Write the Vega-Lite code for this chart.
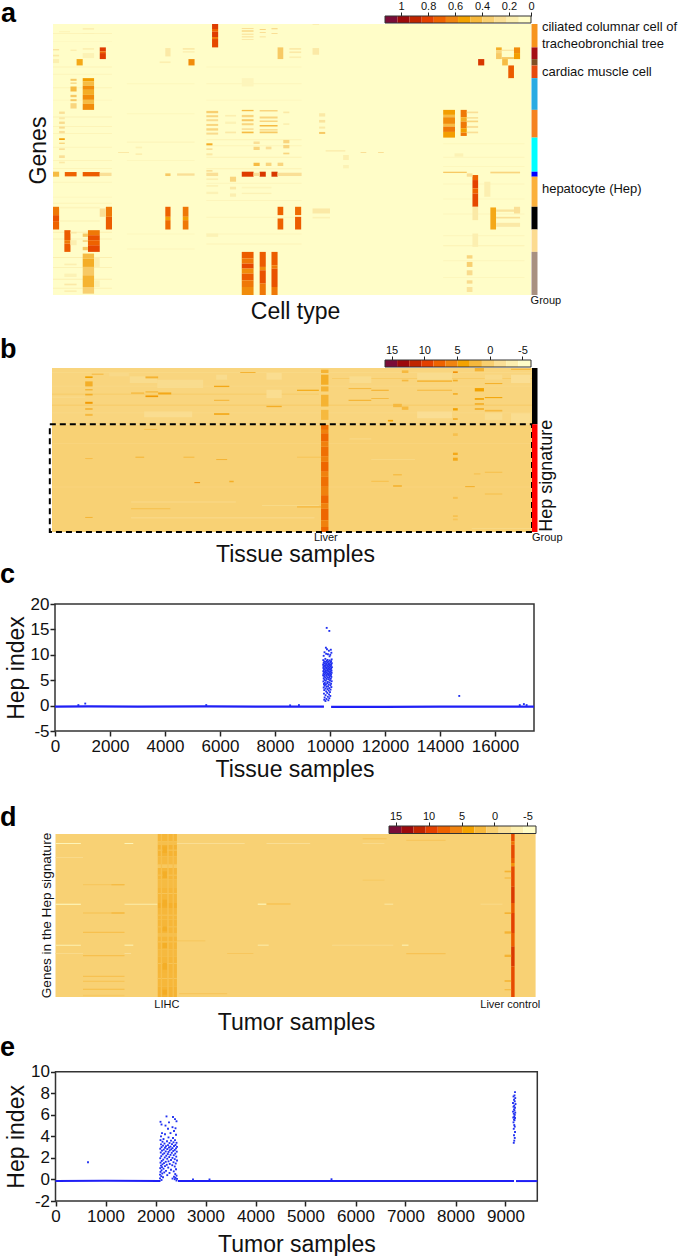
{"$schema":"https://vega.github.io/schema/vega-lite/v6.json","width":685,"height":1256,"padding":0,"autosize":{"type":"none"},"background":"white","config":{"font":"Liberation Sans","view":{"stroke":null},"axis":{"grid":false,"titleFontWeight":"normal","labelColor":"#111","titleColor":"#111","tickColor":"#222"}},
"datasets":{
"heatA":[{"a":121,"b":1215,"c":73,"d":884,"v":0.03},
{"a":121,"b":256,"c":100,"d":103,"v":0.09},{"a":121,"b":256,"c":125,"d":127,"v":0.08},{"a":121,"b":256,"c":200,"d":203,"v":0.09},{"a":121,"b":256,"c":222,"d":225,"v":0.08},{"a":121,"b":256,"c":262,"d":265,"v":0.09},{"a":121,"b":256,"c":300,"d":302,"v":0.08},{"a":121,"b":256,"c":350,"d":353,"v":0.1},{"a":121,"b":256,"c":378,"d":381,"v":0.09},{"a":121,"b":256,"c":400,"d":402,"v":0.1},{"a":121,"b":256,"c":440,"d":443,"v":0.08},{"a":121,"b":256,"c":480,"d":483,"v":0.09},{"a":121,"b":256,"c":505,"d":507,"v":0.1},{"a":121,"b":256,"c":545,"d":548,"v":0.08},{"a":121,"b":256,"c":590,"d":592,"v":0.08},{"a":121,"b":256,"c":608,"d":611,"v":0.09},{"a":121,"b":256,"c":695,"d":698,"v":0.12},{"a":121,"b":256,"c":715,"d":718,"v":0.1},{"a":121,"b":256,"c":770,"d":773,"v":0.12},{"a":121,"b":256,"c":800,"d":803,"v":0.1},{"a":121,"b":256,"c":835,"d":838,"v":0.12},{"a":121,"b":256,"c":862,"d":865,"v":0.1},
{"a":472,"b":690,"c":200,"d":203,"v":0.07},{"a":472,"b":690,"c":250,"d":253,"v":0.08},{"a":472,"b":690,"c":300,"d":302,"v":0.08},{"a":472,"b":690,"c":418,"d":421,"v":0.1},{"a":472,"b":690,"c":436,"d":439,"v":0.09},{"a":472,"b":690,"c":470,"d":473,"v":0.1},{"a":472,"b":690,"c":505,"d":508,"v":0.1},{"a":472,"b":690,"c":548,"d":551,"v":0.08},{"a":472,"b":690,"c":600,"d":603,"v":0.08},{"a":472,"b":690,"c":650,"d":653,"v":0.08},{"a":472,"b":690,"c":700,"d":703,"v":0.08},{"a":472,"b":690,"c":730,"d":733,"v":0.09},
{"a":1014,"b":1200,"c":430,"d":433,"v":0.07},{"a":1014,"b":1200,"c":470,"d":473,"v":0.08},{"a":1014,"b":1200,"c":498,"d":501,"v":0.07},{"a":1014,"b":1200,"c":550,"d":553,"v":0.08},{"a":1014,"b":1200,"c":595,"d":598,"v":0.07},{"a":1014,"b":1200,"c":640,"d":643,"v":0.08},{"a":1014,"b":1200,"c":705,"d":708,"v":0.08},{"a":1014,"b":1200,"c":735,"d":738,"v":0.1},{"a":1014,"b":1200,"c":780,"d":783,"v":0.08},{"a":1014,"b":1200,"c":830,"d":833,"v":0.07},
{"a":290,"b":445,"c":250,"d":253,"v":0.07},{"a":290,"b":445,"c":340,"d":343,"v":0.07},{"a":290,"b":445,"c":425,"d":428,"v":0.08},{"a":290,"b":445,"c":480,"d":483,"v":0.07},{"a":290,"b":445,"c":700,"d":703,"v":0.07},{"a":290,"b":445,"c":745,"d":748,"v":0.08},
{"a":485,"b":499,"c":73,"d":88,"v":0.72},{"a":485,"b":499,"c":88,"d":96,"v":0.6},{"a":485,"b":499,"c":96,"d":112,"v":0.72},{"a":485,"b":499,"c":112,"d":118,"v":0.55},{"a":485,"b":499,"c":118,"d":143,"v":0.68},
{"a":553,"b":580,"c":85,"d":88,"v":0.2},{"a":553,"b":580,"c":92,"d":96,"v":0.25},{"a":553,"b":580,"c":102,"d":105,"v":0.2},{"a":553,"b":580,"c":110,"d":113,"v":0.2},{"a":553,"b":580,"c":118,"d":121,"v":0.15},{"a":594,"b":608,"c":88,"d":91,"v":0.25},{"a":594,"b":608,"c":97,"d":100,"v":0.2},{"a":594,"b":608,"c":110,"d":113,"v":0.18},{"a":621,"b":635,"c":85,"d":89,"v":0.22},{"a":621,"b":635,"c":100,"d":103,"v":0.2},{"a":135,"b":160,"c":95,"d":98,"v":0.1},{"a":189,"b":215,"c":85,"d":90,"v":0.12},{"a":189,"b":215,"c":100,"d":103,"v":0.1},{"a":715,"b":730,"c":73,"d":76,"v":0.12},
{"a":228,"b":242,"c":143,"d":155,"v":0.72},{"a":228,"b":242,"c":155,"d":160,"v":0.6},{"a":228,"b":242,"c":160,"d":178,"v":0.72},{"a":1135,"b":1148,"c":143,"d":152,"v":0.4},{"a":1135,"b":1148,"c":152,"d":160,"v":0.25},{"a":1135,"b":1148,"c":160,"d":178,"v":0.3},{"a":1176,"b":1190,"c":143,"d":160,"v":0.5},{"a":1176,"b":1190,"c":160,"d":178,"v":0.45},{"a":1148,"b":1176,"c":150,"d":153,"v":0.2},{"a":1148,"b":1176,"c":172,"d":178,"v":0.3},{"a":635,"b":648,"c":143,"d":178,"v":0.3},{"a":662,"b":689,"c":145,"d":150,"v":0.15},{"a":662,"b":689,"c":155,"d":160,"v":0.15},{"a":662,"b":689,"c":170,"d":175,"v":0.12},{"a":715,"b":730,"c":145,"d":165,"v":0.15},{"a":378,"b":390,"c":145,"d":170,"v":0.15},{"a":418,"b":445,"c":145,"d":150,"v":0.15},{"a":418,"b":445,"c":155,"d":158,"v":0.15},{"a":121,"b":135,"c":148,"d":152,"v":0.18},{"a":121,"b":135,"c":165,"d":170,"v":0.15},{"a":121,"b":135,"c":178,"d":190,"v":0.12},{"a":161,"b":175,"c":150,"d":153,"v":0.15},{"a":189,"b":215,"c":145,"d":150,"v":0.12},{"a":189,"b":215,"c":160,"d":175,"v":0.1},
{"a":175,"b":189,"c":178,"d":197,"v":0.42},{"a":431,"b":445,"c":178,"d":197,"v":0.5},{"a":1094,"b":1108,"c":178,"d":197,"v":0.75},{"a":1149,"b":1162,"c":178,"d":197,"v":0.35},{"a":365,"b":390,"c":185,"d":190,"v":0.12},{"a":1163,"b":1176,"c":197,"d":235,"v":0.62},
{"a":161,"b":175,"c":237,"d":243,"v":0.3},{"a":161,"b":175,"c":248,"d":252,"v":0.25},{"a":161,"b":175,"c":260,"d":275,"v":0.35},{"a":161,"b":175,"c":285,"d":292,"v":0.3},{"a":161,"b":175,"c":298,"d":304,"v":0.3},{"a":161,"b":175,"c":310,"d":326,"v":0.25},
{"a":189,"b":215,"c":235,"d":245,"v":0.45},{"a":189,"b":215,"c":245,"d":258,"v":0.35},{"a":189,"b":215,"c":258,"d":270,"v":0.5},{"a":189,"b":215,"c":270,"d":285,"v":0.4},{"a":189,"b":215,"c":285,"d":300,"v":0.5},{"a":189,"b":215,"c":300,"d":312,"v":0.35},{"a":189,"b":215,"c":312,"d":330,"v":0.5},{"a":553,"b":580,"c":235,"d":260,"v":0.08},
{"a":1014,"b":1041,"c":330,"d":345,"v":0.45},{"a":1014,"b":1041,"c":345,"d":352,"v":0.35},{"a":1014,"b":1041,"c":352,"d":372,"v":0.5},{"a":1014,"b":1041,"c":372,"d":380,"v":0.35},{"a":1014,"b":1041,"c":380,"d":396,"v":0.55},{"a":1014,"b":1041,"c":396,"d":413,"v":0.45},
{"a":1054,"b":1068,"c":330,"d":352,"v":0.55},{"a":1054,"b":1068,"c":352,"d":365,"v":0.4},{"a":1054,"b":1068,"c":365,"d":385,"v":0.55},{"a":1054,"b":1068,"c":385,"d":398,"v":0.45},{"a":1054,"b":1068,"c":398,"d":408,"v":0.55},
{"a":1068,"b":1094,"c":335,"d":340,"v":0.2},{"a":1068,"b":1094,"c":352,"d":356,"v":0.22},{"a":1068,"b":1094,"c":362,"d":367,"v":0.25},{"a":1068,"b":1094,"c":378,"d":384,"v":0.2},{"a":1068,"b":1094,"c":395,"d":400,"v":0.2},
{"a":472,"b":499,"c":333,"d":340,"v":0.28},{"a":472,"b":499,"c":346,"d":352,"v":0.25},{"a":472,"b":499,"c":358,"d":364,"v":0.22},{"a":472,"b":499,"c":372,"d":378,"v":0.25},{"a":472,"b":499,"c":385,"d":392,"v":0.25},{"a":472,"b":499,"c":398,"d":404,"v":0.22},
{"a":553,"b":580,"c":330,"d":334,"v":0.35},{"a":553,"b":580,"c":345,"d":352,"v":0.25},{"a":553,"b":580,"c":358,"d":364,"v":0.3},{"a":553,"b":580,"c":370,"d":376,"v":0.25},{"a":553,"b":580,"c":385,"d":390,"v":0.2},{"a":553,"b":580,"c":395,"d":400,"v":0.35},
{"a":594,"b":635,"c":330,"d":335,"v":0.25},{"a":594,"b":635,"c":350,"d":356,"v":0.25},{"a":594,"b":635,"c":362,"d":366,"v":0.25},{"a":594,"b":635,"c":375,"d":380,"v":0.35},{"a":594,"b":635,"c":388,"d":392,"v":0.25},{"a":594,"b":635,"c":395,"d":400,"v":0.3},
{"a":135,"b":148,"c":335,"d":342,"v":0.2},{"a":135,"b":148,"c":352,"d":358,"v":0.15},{"a":135,"b":148,"c":365,"d":372,"v":0.22},{"a":135,"b":148,"c":380,"d":386,"v":0.22},{"a":135,"b":148,"c":393,"d":400,"v":0.2},
{"a":730,"b":744,"c":340,"d":350,"v":0.15},{"a":730,"b":744,"c":360,"d":368,"v":0.18},{"a":730,"b":744,"c":380,"d":386,"v":0.15},{"a":730,"b":744,"c":396,"d":402,"v":0.3},{"a":648,"b":662,"c":335,"d":340,"v":0.15},{"a":648,"b":662,"c":370,"d":375,"v":0.12},{"a":515,"b":540,"c":345,"d":350,"v":0.12},{"a":515,"b":540,"c":365,"d":372,"v":0.1},{"a":515,"b":540,"c":395,"d":400,"v":0.15},
{"a":135,"b":148,"c":415,"d":420,"v":0.45},{"a":135,"b":148,"c":428,"d":432,"v":0.25},{"a":135,"b":148,"c":445,"d":450,"v":0.2},{"a":135,"b":148,"c":466,"d":474,"v":0.2},{"a":135,"b":148,"c":485,"d":490,"v":0.15},{"a":472,"b":486,"c":430,"d":436,"v":0.4},{"a":472,"b":486,"c":445,"d":450,"v":0.2},{"a":472,"b":486,"c":460,"d":466,"v":0.15},{"a":472,"b":486,"c":510,"d":515,"v":0.2},{"a":580,"b":594,"c":425,"d":432,"v":0.2},{"a":580,"b":594,"c":440,"d":450,"v":0.25},{"a":580,"b":594,"c":488,"d":498,"v":0.35},{"a":608,"b":621,"c":440,"d":448,"v":0.2},{"a":608,"b":621,"c":488,"d":498,"v":0.25},{"a":635,"b":648,"c":488,"d":498,"v":0.25},{"a":648,"b":662,"c":420,"d":430,"v":0.25},{"a":648,"b":662,"c":435,"d":445,"v":0.25},{"a":648,"b":662,"c":458,"d":463,"v":0.25},{"a":270,"b":295,"c":456,"d":459,"v":0.15},{"a":310,"b":325,"c":460,"d":465,"v":0.12},{"a":310,"b":325,"c":440,"d":445,"v":0.1},{"a":825,"b":838,"c":456,"d":459,"v":0.2},{"a":865,"b":878,"c":456,"d":459,"v":0.2},{"a":745,"b":790,"c":450,"d":455,"v":0.12},{"a":785,"b":798,"c":465,"d":480,"v":0.12},{"a":785,"b":798,"c":495,"d":505,"v":0.1},{"a":1040,"b":1060,"c":460,"d":470,"v":0.1},
{"a":121,"b":135,"c":515,"d":530,"v":0.35},{"a":148,"b":175,"c":516,"d":529,"v":0.6},{"a":189,"b":228,"c":516,"d":529,"v":0.62},{"a":228,"b":255,"c":518,"d":528,"v":0.2},{"a":553,"b":580,"c":515,"d":530,"v":0.72},{"a":594,"b":608,"c":515,"d":530,"v":0.75},{"a":621,"b":635,"c":515,"d":530,"v":0.75},{"a":580,"b":594,"c":518,"d":528,"v":0.2},{"a":635,"b":690,"c":518,"d":528,"v":0.2},{"a":378,"b":390,"c":520,"d":528,"v":0.3},{"a":405,"b":445,"c":520,"d":527,"v":0.2},{"a":1014,"b":1068,"c":515,"d":519,"v":0.3},{"a":1122,"b":1190,"c":515,"d":520,"v":0.25},{"a":472,"b":499,"c":518,"d":528,"v":0.2},
{"a":1081,"b":1094,"c":525,"d":540,"v":0.6},{"a":1081,"b":1094,"c":540,"d":565,"v":0.7},{"a":1081,"b":1094,"c":565,"d":580,"v":0.6},{"a":1081,"b":1094,"c":580,"d":620,"v":0.68},{"a":526,"b":540,"c":530,"d":545,"v":0.25},{"a":526,"b":540,"c":560,"d":568,"v":0.15},{"a":526,"b":540,"c":580,"d":590,"v":0.12},{"a":1108,"b":1122,"c":545,"d":590,"v":0.12},{"a":472,"b":499,"c":535,"d":540,"v":0.12},{"a":472,"b":499,"c":555,"d":560,"v":0.1},{"a":472,"b":499,"c":575,"d":582,"v":0.1},{"a":1068,"b":1081,"c":520,"d":530,"v":0.2},{"a":553,"b":621,"c":560,"d":565,"v":0.08},{"a":553,"b":621,"c":578,"d":582,"v":0.1},
{"a":121,"b":135,"c":620,"d":645,"v":0.55},{"a":121,"b":135,"c":645,"d":665,"v":0.65},{"a":121,"b":135,"c":665,"d":688,"v":0.6},{"a":242,"b":256,"c":620,"d":650,"v":0.55},{"a":242,"b":256,"c":650,"d":688,"v":0.62},{"a":378,"b":390,"c":620,"d":650,"v":0.6},{"a":378,"b":390,"c":650,"d":660,"v":0.45},{"a":378,"b":390,"c":660,"d":688,"v":0.58},{"a":418,"b":431,"c":620,"d":650,"v":0.55},{"a":418,"b":431,"c":650,"d":660,"v":0.45},{"a":418,"b":431,"c":660,"d":688,"v":0.55},{"a":635,"b":648,"c":620,"d":645,"v":0.6},{"a":635,"b":648,"c":655,"d":688,"v":0.6},{"a":675,"b":689,"c":620,"d":645,"v":0.58},{"a":675,"b":689,"c":650,"d":688,"v":0.62},{"a":1122,"b":1135,"c":622,"d":688,"v":0.42},{"a":1135,"b":1190,"c":628,"d":635,"v":0.18},{"a":1135,"b":1190,"c":650,"d":655,"v":0.2},{"a":1135,"b":1190,"c":668,"d":680,"v":0.15},{"a":1176,"b":1190,"c":620,"d":640,"v":0.2},{"a":715,"b":755,"c":625,"d":640,"v":0.15},{"a":715,"b":755,"c":650,"d":655,"v":0.1},{"a":228,"b":242,"c":625,"d":650,"v":0.2},{"a":135,"b":228,"c":620,"d":625,"v":0.08},{"a":135,"b":228,"c":660,"d":665,"v":0.08},{"a":1081,"b":1094,"c":620,"d":660,"v":0.15},
{"a":147,"b":161,"c":690,"d":720,"v":0.62},{"a":147,"b":161,"c":720,"d":730,"v":0.55},{"a":147,"b":161,"c":730,"d":755,"v":0.62},{"a":201,"b":228,"c":690,"d":705,"v":0.55},{"a":201,"b":228,"c":705,"d":720,"v":0.65},{"a":201,"b":228,"c":720,"d":735,"v":0.6},{"a":201,"b":228,"c":735,"d":755,"v":0.68},{"a":161,"b":175,"c":695,"d":700,"v":0.15},{"a":161,"b":175,"c":720,"d":735,"v":0.12},{"a":189,"b":201,"c":700,"d":710,"v":0.3},{"a":189,"b":201,"c":720,"d":725,"v":0.25},{"a":189,"b":201,"c":740,"d":750,"v":0.3},{"a":1081,"b":1094,"c":700,"d":740,"v":0.12},{"a":472,"b":499,"c":700,"d":710,"v":0.1},
{"a":553,"b":580,"c":755,"d":775,"v":0.62},{"a":553,"b":580,"c":775,"d":790,"v":0.55},{"a":553,"b":580,"c":790,"d":805,"v":0.68},{"a":553,"b":580,"c":805,"d":820,"v":0.5},{"a":553,"b":580,"c":820,"d":840,"v":0.62},{"a":553,"b":580,"c":840,"d":860,"v":0.55},{"a":553,"b":580,"c":860,"d":884,"v":0.5},{"a":594,"b":608,"c":755,"d":800,"v":0.62},{"a":594,"b":608,"c":800,"d":810,"v":0.5},{"a":594,"b":608,"c":810,"d":850,"v":0.65},{"a":594,"b":608,"c":850,"d":884,"v":0.55},{"a":621,"b":635,"c":755,"d":795,"v":0.62},{"a":621,"b":635,"c":795,"d":805,"v":0.55},{"a":621,"b":635,"c":805,"d":860,"v":0.65},{"a":621,"b":635,"c":860,"d":884,"v":0.55},{"a":189,"b":215,"c":760,"d":775,"v":0.35},{"a":189,"b":215,"c":775,"d":800,"v":0.4},{"a":189,"b":215,"c":800,"d":825,"v":0.3},{"a":189,"b":215,"c":825,"d":860,"v":0.38},{"a":189,"b":215,"c":860,"d":880,"v":0.28},{"a":1068,"b":1081,"c":765,"d":775,"v":0.25},{"a":1068,"b":1081,"c":785,"d":800,"v":0.28},{"a":1068,"b":1081,"c":810,"d":825,"v":0.22},{"a":1068,"b":1081,"c":840,"d":850,"v":0.22},{"a":1068,"b":1081,"c":860,"d":875,"v":0.18},{"a":147,"b":175,"c":790,"d":795,"v":0.12},{"a":147,"b":175,"c":820,"d":830,"v":0.1},{"a":147,"b":175,"c":850,"d":855,"v":0.15},{"a":147,"b":175,"c":870,"d":875,"v":0.12},{"a":215,"b":228,"c":770,"d":800,"v":0.12},{"a":215,"b":228,"c":840,"d":860,"v":0.1}],
"heatB":[{"a":119,"b":1218,"c":115,"d":283,"v":-0.4},{"a":119,"b":1218,"c":283,"d":605,"v":0.1},
{"a":119,"b":1218,"c":128,"d":130,"v":-1},{"a":119,"b":1218,"c":168,"d":170,"v":-0.9},{"a":119,"b":1218,"c":225,"d":227,"v":0.9},{"a":119,"b":1218,"c":248,"d":250,"v":-0.9},{"a":119,"b":1218,"c":272,"d":274,"v":-0.8},{"a":119,"b":730,"c":192,"d":194,"v":0.8},{"a":760,"b":1218,"c":145,"d":147,"v":0.8},{"a":119,"b":1218,"c":340,"d":341,"v":-0.7},{"a":119,"b":1218,"c":470,"d":471,"v":-0.7},
{"a":297,"b":360,"c":140,"d":160,"v":-1.2},{"a":360,"b":465,"c":150,"d":175,"v":-1.2},{"a":495,"b":520,"c":135,"d":150,"v":-1.2},{"a":610,"b":645,"c":130,"d":150,"v":-1.3},{"a":610,"b":645,"c":180,"d":205,"v":-1.3},{"a":800,"b":850,"c":140,"d":160,"v":-1.2},{"a":955,"b":1035,"c":130,"d":150,"v":-1.2},{"a":955,"b":1035,"c":245,"d":265,"v":-1.5},{"a":1170,"b":1215,"c":135,"d":160,"v":-1.5},{"a":1170,"b":1215,"c":250,"d":280,"v":-1.3},{"a":330,"b":440,"c":245,"d":262,"v":-1.3},{"a":120,"b":195,"c":200,"d":205,"v":-0.9},{"a":1110,"b":1150,"c":135,"d":150,"v":-1},{"a":1110,"b":1150,"c":250,"d":270,"v":-1.2},{"a":250,"b":295,"c":130,"d":140,"v":-0.9},
{"a":195,"b":212,"c":140,"d":145,"v":4},{"a":195,"b":212,"c":155,"d":170,"v":3},{"a":195,"b":212,"c":178,"d":182,"v":2.5},{"a":195,"b":212,"c":192,"d":197,"v":3},{"a":195,"b":212,"c":216,"d":222,"v":4.5},{"a":195,"b":212,"c":235,"d":240,"v":2.5},{"a":195,"b":212,"c":252,"d":258,"v":2},
{"a":735,"b":752,"c":120,"d":130,"v":2.5},{"a":735,"b":752,"c":135,"d":165,"v":3},{"a":735,"b":752,"c":170,"d":185,"v":2.5},{"a":735,"b":752,"c":195,"d":230,"v":2.5},{"a":735,"b":752,"c":240,"d":270,"v":2},
{"a":1037,"b":1048,"c":125,"d":130,"v":5},{"a":1037,"b":1048,"c":150,"d":155,"v":3},{"a":1037,"b":1048,"c":190,"d":195,"v":3},{"a":1037,"b":1048,"c":235,"d":242,"v":4},{"a":1037,"b":1048,"c":265,"d":270,"v":3},
{"a":1087,"b":1108,"c":115,"d":125,"v":2.5},{"a":1087,"b":1108,"c":175,"d":185,"v":4},{"a":1087,"b":1108,"c":205,"d":210,"v":4},{"a":1087,"b":1108,"c":220,"d":225,"v":3},{"a":1087,"b":1108,"c":235,"d":240,"v":3},{"a":1110,"b":1150,"c":160,"d":163,"v":3},{"a":1110,"b":1150,"c":202,"d":205,"v":4},{"a":1110,"b":1150,"c":240,"d":245,"v":2},{"a":955,"b":1035,"c":152,"d":156,"v":3},{"a":955,"b":1035,"c":180,"d":183,"v":2},{"a":798,"b":850,"c":210,"d":213,"v":3},{"a":798,"b":850,"c":175,"d":178,"v":2},{"a":850,"b":890,"c":180,"d":183,"v":3},{"a":850,"b":890,"c":205,"d":207,"v":3},{"a":333,"b":362,"c":140,"d":146,"v":2.5},{"a":333,"b":362,"c":185,"d":188,"v":3},{"a":333,"b":362,"c":197,"d":202,"v":4.5},{"a":300,"b":330,"c":188,"d":192,"v":2},{"a":362,"b":392,"c":188,"d":194,"v":3.5},{"a":490,"b":525,"c":168,"d":172,"v":3.5},{"a":490,"b":525,"c":250,"d":255,"v":3.5},{"a":490,"b":525,"c":210,"d":213,"v":2.5},{"a":680,"b":730,"c":180,"d":183,"v":4},{"a":610,"b":645,"c":228,"d":232,"v":3},{"a":550,"b":585,"c":127,"d":130,"v":2.5},{"a":210,"b":237,"c":132,"d":135,"v":2},{"a":888,"b":900,"c":270,"d":275,"v":4},{"a":900,"b":920,"c":222,"d":232,"v":2},{"a":920,"b":935,"c":122,"d":130,"v":2},{"a":920,"b":935,"c":150,"d":155,"v":2},{"a":920,"b":935,"c":230,"d":240,"v":2},{"a":1170,"b":1215,"c":117,"d":120,"v":2.5},
{"a":735,"b":752,"c":285,"d":300,"v":7},{"a":735,"b":752,"c":300,"d":310,"v":6},{"a":735,"b":752,"c":310,"d":335,"v":7.5},{"a":735,"b":752,"c":335,"d":350,"v":6},{"a":735,"b":752,"c":350,"d":380,"v":7},{"a":735,"b":752,"c":380,"d":395,"v":6},{"a":735,"b":752,"c":395,"d":425,"v":7.5},{"a":735,"b":752,"c":425,"d":440,"v":6},{"a":735,"b":752,"c":440,"d":470,"v":7},{"a":735,"b":752,"c":470,"d":495,"v":6},{"a":735,"b":752,"c":495,"d":520,"v":7.5},{"a":735,"b":752,"c":520,"d":535,"v":6},{"a":735,"b":752,"c":535,"d":570,"v":7.5},{"a":735,"b":752,"c":570,"d":590,"v":6},{"a":735,"b":752,"c":590,"d":605,"v":7.5},
{"a":1037,"b":1048,"c":310,"d":318,"v":1.5},{"a":1037,"b":1048,"c":368,"d":375,"v":3.5},{"a":1037,"b":1048,"c":383,"d":392,"v":3.5},{"a":1037,"b":1048,"c":500,"d":506,"v":1.5},{"a":1037,"b":1048,"c":555,"d":560,"v":1.5},{"a":1037,"b":1048,"c":565,"d":570,"v":1.2},{"a":195,"b":212,"c":385,"d":387,"v":2.5},{"a":195,"b":212,"c":560,"d":563,"v":2.5},{"a":310,"b":330,"c":380,"d":383,"v":2.5},{"a":420,"b":445,"c":380,"d":383,"v":2},{"a":495,"b":520,"c":387,"d":390,"v":2.5},{"a":445,"b":458,"c":456,"d":459,"v":5},{"a":525,"b":535,"c":452,"d":456,"v":3},{"a":680,"b":735,"c":380,"d":383,"v":1.2},{"a":680,"b":735,"c":528,"d":532,"v":2},{"a":300,"b":390,"c":534,"d":537,"v":1.6},{"a":900,"b":920,"c":432,"d":436,"v":1.8},{"a":900,"b":920,"c":465,"d":470,"v":2.5},{"a":1065,"b":1087,"c":468,"d":471,"v":3},{"a":1110,"b":1150,"c":490,"d":493,"v":1.6},{"a":1110,"b":1150,"c":425,"d":428,"v":1.6},{"a":330,"b":360,"c":297,"d":300,"v":1.4},{"a":1085,"b":1100,"c":430,"d":433,"v":1.6},{"a":850,"b":890,"c":452,"d":455,"v":1.6},
{"a":300,"b":720,"c":562,"d":564,"v":-1.5},{"a":800,"b":850,"c":326,"d":328,"v":-1.5},{"a":300,"b":540,"c":514,"d":517,"v":-1},{"a":600,"b":730,"c":525,"d":527,"v":-1.2},{"a":850,"b":950,"c":388,"d":390,"v":-1},{"a":1080,"b":1218,"c":594,"d":596,"v":-1}],
"heatD":[{"a":127,"b":1226,"c":103,"d":592,"v":0.1},
{"a":361,"b":405,"c":103,"d":125,"v":2.3},{"a":361,"b":405,"c":125,"d":135,"v":1.6},{"a":361,"b":405,"c":135,"d":170,"v":2.5},{"a":361,"b":405,"c":170,"d":195,"v":2},{"a":361,"b":405,"c":195,"d":205,"v":0.9},{"a":361,"b":405,"c":205,"d":240,"v":2.3},{"a":361,"b":405,"c":240,"d":265,"v":1.9},{"a":361,"b":405,"c":265,"d":310,"v":2.3},{"a":361,"b":405,"c":310,"d":325,"v":2.8},{"a":361,"b":405,"c":325,"d":360,"v":2.2},{"a":361,"b":405,"c":360,"d":400,"v":2.3},{"a":361,"b":405,"c":400,"d":410,"v":1.6},{"a":361,"b":405,"c":410,"d":450,"v":2.3},{"a":361,"b":405,"c":450,"d":470,"v":2},{"a":361,"b":405,"c":470,"d":520,"v":2.3},{"a":361,"b":405,"c":520,"d":560,"v":2.2},{"a":361,"b":405,"c":560,"d":592,"v":2.5},
{"a":361,"b":405,"c":150,"d":153,"v":1.2},{"a":361,"b":405,"c":225,"d":228,"v":1.2},{"a":361,"b":405,"c":280,"d":283,"v":1.2},{"a":361,"b":405,"c":345,"d":348,"v":1.2},{"a":361,"b":405,"c":380,"d":383,"v":1.3},{"a":361,"b":405,"c":425,"d":428,"v":1.2},{"a":361,"b":405,"c":490,"d":493,"v":1.2},{"a":361,"b":405,"c":535,"d":538,"v":1.2},
{"a":368,"b":371,"c":103,"d":592,"v":1.5},{"a":383,"b":386,"c":103,"d":592,"v":1.3},{"a":395,"b":398,"c":103,"d":592,"v":1.5},
{"a":372,"b":382,"c":140,"d":160,"v":3},{"a":372,"b":382,"c":215,"d":235,"v":3},{"a":372,"b":382,"c":300,"d":320,"v":3},{"a":372,"b":382,"c":380,"d":395,"v":3},{"a":372,"b":382,"c":430,"d":445,"v":3},{"a":372,"b":382,"c":490,"d":510,"v":3},{"a":372,"b":382,"c":570,"d":585,"v":3.2},
{"a":1170,"b":1178,"c":103,"d":125,"v":9},{"a":1170,"b":1178,"c":125,"d":135,"v":7},{"a":1170,"b":1178,"c":135,"d":175,"v":9},{"a":1170,"b":1178,"c":175,"d":190,"v":8},{"a":1170,"b":1178,"c":190,"d":200,"v":5},{"a":1170,"b":1178,"c":200,"d":260,"v":9},{"a":1170,"b":1178,"c":260,"d":310,"v":10},{"a":1170,"b":1178,"c":310,"d":340,"v":8},{"a":1170,"b":1178,"c":340,"d":400,"v":9.5},{"a":1170,"b":1178,"c":400,"d":440,"v":8},{"a":1170,"b":1178,"c":440,"d":500,"v":10},{"a":1170,"b":1178,"c":500,"d":592,"v":9},
{"a":1155,"b":1170,"c":213,"d":218,"v":2.5},{"a":1155,"b":1170,"c":233,"d":237,"v":1.8},{"a":1155,"b":1170,"c":338,"d":343,"v":2.5},{"a":1155,"b":1170,"c":395,"d":402,"v":2.5},{"a":1155,"b":1170,"c":465,"d":472,"v":2.5},{"a":1155,"b":1170,"c":542,"d":546,"v":3},{"a":1155,"b":1170,"c":568,"d":572,"v":1.8},
{"a":190,"b":285,"c":253,"d":257,"v":0.9},{"a":255,"b":285,"c":253,"d":257,"v":1.8},{"a":190,"b":285,"c":338,"d":342,"v":1},{"a":255,"b":285,"c":338,"d":342,"v":2},{"a":190,"b":285,"c":396,"d":400,"v":1.5},{"a":190,"b":285,"c":466,"d":470,"v":1.5},{"a":190,"b":285,"c":528,"d":532,"v":1.4},{"a":190,"b":285,"c":543,"d":546,"v":1.4},{"a":190,"b":285,"c":567,"d":570,"v":1.8},{"a":190,"b":285,"c":585,"d":590,"v":0.7},
{"a":127,"b":185,"c":130,"d":133,"v":-4},{"a":285,"b":305,"c":130,"d":133,"v":-4},{"a":405,"b":560,"c":130,"d":133,"v":-1.5},{"a":610,"b":710,"c":130,"d":133,"v":-1.5},{"a":830,"b":880,"c":130,"d":133,"v":-1},{"a":127,"b":185,"c":312,"d":315,"v":-5},{"a":285,"b":360,"c":312,"d":315,"v":-3},{"a":590,"b":610,"c":312,"d":315,"v":-5},{"a":880,"b":900,"c":312,"d":315,"v":-2.5},{"a":1100,"b":1150,"c":312,"d":315,"v":-1},{"a":127,"b":185,"c":435,"d":438,"v":-3.5},{"a":285,"b":305,"c":435,"d":438,"v":-4},{"a":590,"b":615,"c":435,"d":438,"v":-3},{"a":920,"b":935,"c":435,"d":438,"v":-4},{"a":760,"b":900,"c":435,"d":438,"v":-1},{"a":127,"b":190,"c":172,"d":175,"v":-1},{"a":127,"b":190,"c":460,"d":463,"v":-1},{"a":285,"b":300,"c":460,"d":463,"v":-1.5},
{"a":610,"b":665,"c":311,"d":315,"v":1.4},{"a":930,"b":1020,"c":460,"d":464,"v":1.3},{"a":930,"b":1020,"c":120,"d":124,"v":1},{"a":830,"b":885,"c":115,"d":119,"v":1},{"a":520,"b":580,"c":460,"d":463,"v":1},{"a":405,"b":470,"c":422,"d":425,"v":1},{"a":410,"b":520,"c":580,"d":584,"v":1},{"a":830,"b":880,"c":240,"d":243,"v":0.8}],
"legAB":[{"a":16,"b":14.15,"v":15.1},{"a":14.15,"b":12.3,"v":13.2},{"a":12.3,"b":10.45,"v":11.4},{"a":10.45,"b":8.6,"v":9.5},{"a":8.6,"b":6.75,"v":7.7},{"a":6.75,"b":4.9,"v":5.8},{"a":4.9,"b":3.05,"v":4},{"a":3.05,"b":1.2,"v":2.1},{"a":1.2,"b":-0.65,"v":0.3},{"a":-0.65,"b":-2.5,"v":-1.6},{"a":-2.5,"b":-4.35,"v":-3.4},{"a":-4.35,"b":-6.3,"v":-5.3}],
"ptsC":[{"x":9880,"y":15.3},{"x":9975,"y":14.7},{"x":14700,"y":1.9},{"x":1100,"y":0.4},{"x":850,"y":0.1},{"x":5500,"y":0.1},{"x":8550,"y":0.05},{"x":8870,"y":0.1},{"x":16900,"y":0.1},{"x":17050,"y":0.3},{"x":17150,"y":0.1},
{"x":9850,"y":11.4},{"x":9890,"y":11.1},{"x":10030,"y":11},{"x":9960,"y":10.8},{"x":9800,"y":10.5},{"x":10050,"y":10.4},{"x":9860,"y":10.2},{"x":9925,"y":10.1},{"x":10010,"y":10},{"x":9770,"y":9.8},{"x":9985,"y":9.7},{"x":9830,"y":9.2},{"x":10060,"y":9.1},{"x":9910,"y":9},{"x":9755,"y":8.95},{"x":9985,"y":8.9},{"x":9880,"y":8.8},{"x":10040,"y":8.75},{"x":9790,"y":8.7},{"x":9945,"y":8.65},{"x":9840,"y":8.6},{"x":10015,"y":8.55},{"x":9900,"y":8.5},{"x":9770,"y":8.4},{"x":10065,"y":8.35},{"x":9960,"y":8.3},{"x":9815,"y":8.25},{"x":9870,"y":8.2},{"x":10000,"y":8.15},{"x":9930,"y":8.1},{"x":9750,"y":8.05},{"x":10045,"y":8},{"x":9850,"y":7.95},{"x":9975,"y":7.9},{"x":9795,"y":7.85},{"x":9905,"y":7.8},{"x":10025,"y":7.75},{"x":9765,"y":7.7},{"x":9955,"y":7.65},{"x":9825,"y":7.6},{"x":10070,"y":7.55},{"x":9885,"y":7.5},{"x":9995,"y":7.45},{"x":9760,"y":7.4},{"x":9935,"y":7.35},{"x":9860,"y":7.3},{"x":10040,"y":7.25},{"x":9800,"y":7.2},{"x":9970,"y":7.15},{"x":9915,"y":7.1},{"x":10010,"y":7.05},{"x":9775,"y":7},{"x":9845,"y":6.95},{"x":10055,"y":6.9},{"x":9895,"y":6.85},{"x":9950,"y":6.8},{"x":9755,"y":6.75},{"x":10025,"y":6.7},{"x":9820,"y":6.65},{"x":9985,"y":6.6},{"x":9875,"y":6.55},{"x":9785,"y":6.5},{"x":10060,"y":6.45},{"x":9925,"y":6.4},{"x":9840,"y":6.35},{"x":10005,"y":6.3},{"x":9765,"y":6.25},{"x":9960,"y":6.2},{"x":9890,"y":6.15},{"x":10040,"y":6.1},{"x":9810,"y":6.05},{"x":9940,"y":6},{"x":9750,"y":5.95},{"x":10020,"y":5.9},{"x":9865,"y":5.85},{"x":9980,"y":5.8},{"x":9790,"y":5.7},{"x":10050,"y":5.65},{"x":9905,"y":5.6},{"x":9830,"y":5.5},{"x":9965,"y":5.45},{"x":9770,"y":5.35},{"x":10030,"y":5.3},{"x":9880,"y":5.25},{"x":9945,"y":5.15},{"x":9800,"y":5.05},{"x":10000,"y":5},{"x":9850,"y":4.9},{"x":10060,"y":4.8},{"x":9760,"y":4.75},{"x":9920,"y":4.65},{"x":9985,"y":4.55},{"x":9815,"y":4.45},{"x":9895,"y":4.4},{"x":10040,"y":4.3},{"x":9780,"y":4.25},{"x":9955,"y":4.15},{"x":9850,"y":4.1},{"x":10015,"y":4},{"x":9800,"y":3.9},{"x":9930,"y":3.8},{"x":9875,"y":3.7},{"x":10050,"y":3.65},{"x":9770,"y":3.55},{"x":9975,"y":3.45},{"x":9835,"y":3.35},{"x":9910,"y":3.25},{"x":10020,"y":3.15},{"x":9790,"y":3.05},{"x":9950,"y":2.95},{"x":9860,"y":2.8},{"x":10000,"y":2.65},{"x":9900,"y":2.5},{"x":9780,"y":2.35},{"x":9965,"y":2.2},{"x":9840,"y":2.05},{"x":10010,"y":1.9},{"x":9920,"y":1.75},{"x":9805,"y":1.6},{"x":9975,"y":1.45},{"x":9870,"y":1.3},{"x":9790,"y":1.15},{"x":9940,"y":1.05},{"x":9835,"y":0.9}],
"ptsE":[{"x":650,"y":1.6},{"x":2750,"y":0},{"x":3080,"y":0},{"x":5520,"y":0.02},{"x":2220,"y":5.85},{"x":2350,"y":5.8},{"x":2390,"y":5.6},{"x":2420,"y":5.4},{"x":2100,"y":5.35},{"x":2120,"y":5.1},{"x":2270,"y":5.3},{"x":2200,"y":5},{"x":2340,"y":4.85},{"x":2400,"y":4.75},{"x":2250,"y":4.7},{"x":2370,"y":4.5},{"x":2130,"y":4.3},{"x":2300,"y":4.3},{"x":2190,"y":4.2},{"x":2410,"y":4.15},{"x":2110,"y":4},{"x":2260,"y":3.9},{"x":2350,"y":3.85},{"x":2160,"y":3.75},{"x":2100,"y":3.65},{"x":2390,"y":3.65},{"x":2310,"y":3.6},{"x":2230,"y":3.55},{"x":2140,"y":3.5},{"x":2360,"y":3.45},{"x":2420,"y":3.4},{"x":2280,"y":3.38},{"x":2180,"y":3.33},{"x":2330,"y":3.28},{"x":2110,"y":3.25},{"x":2400,"y":3.2},{"x":2250,"y":3.18},{"x":2150,"y":3.14},{"x":2370,"y":3.1},{"x":2210,"y":3.08},{"x":2300,"y":3.05},{"x":2430,"y":3.02},{"x":2120,"y":3},{"x":2270,"y":2.97},{"x":2190,"y":2.94},{"x":2340,"y":2.91},{"x":2410,"y":2.88},{"x":2095,"y":2.85},{"x":2235,"y":2.82},{"x":2315,"y":2.8},{"x":2165,"y":2.77},{"x":2385,"y":2.74},{"x":2285,"y":2.7},{"x":2130,"y":2.67},{"x":2355,"y":2.64},{"x":2205,"y":2.6},{"x":2425,"y":2.58},{"x":2260,"y":2.55},{"x":2105,"y":2.5},{"x":2325,"y":2.47},{"x":2175,"y":2.43},{"x":2395,"y":2.4},{"x":2245,"y":2.36},{"x":2145,"y":2.33},{"x":2300,"y":2.28},{"x":2365,"y":2.25},{"x":2215,"y":2.2},{"x":2115,"y":2.16},{"x":2415,"y":2.12},{"x":2275,"y":2.08},{"x":2185,"y":2.04},{"x":2340,"y":2},{"x":2095,"y":1.97},{"x":2235,"y":1.92},{"x":2385,"y":1.88},{"x":2155,"y":1.84},{"x":2310,"y":1.8},{"x":2430,"y":1.76},{"x":2125,"y":1.72},{"x":2260,"y":1.68},{"x":2205,"y":1.64},{"x":2360,"y":1.6},{"x":2100,"y":1.56},{"x":2170,"y":1.52},{"x":2405,"y":1.48},{"x":2285,"y":1.44},{"x":2140,"y":1.4},{"x":2225,"y":1.36},{"x":2335,"y":1.32},{"x":2110,"y":1.28},{"x":2190,"y":1.24},{"x":2385,"y":1.2},{"x":2130,"y":1.14},{"x":2255,"y":1.1},{"x":2095,"y":1.05},{"x":2160,"y":1},{"x":2410,"y":0.95},{"x":2310,"y":0.9},{"x":2120,"y":0.85},{"x":2210,"y":0.8},{"x":2365,"y":0.75},{"x":2100,"y":0.7},{"x":2175,"y":0.65},{"x":2280,"y":0.6},{"x":2135,"y":0.55},{"x":2395,"y":0.5},{"x":2090,"y":0.45},{"x":2235,"y":0.4},{"x":2420,"y":0.35},{"x":2115,"y":0.3},{"x":2370,"y":0.25},{"x":2150,"y":0.2},{"x":2400,"y":0.15},{"x":2090,"y":0.1},{"x":2340,"y":0.08},{"x":2430,"y":0.05},{"x":2120,"y":-0.05},{"x":2385,"y":0.02},{"x":2420,"y":-0.1},
{"x":9190,"y":8.1},{"x":9180,"y":7.8},{"x":9160,"y":7.7},{"x":9195,"y":7.55},{"x":9170,"y":7.4},{"x":9185,"y":7.25},{"x":9150,"y":7.1},{"x":9200,"y":7},{"x":9175,"y":6.85},{"x":9160,"y":6.75},{"x":9190,"y":6.65},{"x":9170,"y":6.5},{"x":9180,"y":6.4},{"x":9150,"y":6.3},{"x":9195,"y":6.2},{"x":9165,"y":6.1},{"x":9185,"y":6},{"x":9175,"y":5.85},{"x":9155,"y":5.75},{"x":9190,"y":5.7},{"x":9170,"y":5.55},{"x":9180,"y":5.5},{"x":9160,"y":5.3},{"x":9175,"y":5.05},{"x":9185,"y":4.9},{"x":9165,"y":4.7},{"x":9190,"y":4.4},{"x":9170,"y":4.1},{"x":9185,"y":3.85},{"x":9175,"y":3.6},{"x":9165,"y":3.4}]
},
"layer":[
{"data":{"name":"heatA"},"mark":{"type":"rect"},"encoding":{"x":{"field":"a","type":"quantitative","scale":{"domain":[121,1215],"range":[53,531],"nice":false,"zero":false},"axis":{"orient":"bottom","offset":-961,"ticks":false,"labels":false,"domain":false,"title":"Cell type","titleFontSize":23,"titlePadding":5,"titleX":295}},"x2":{"field":"b"},"y":{"field":"c","type":"quantitative","scale":{"domain":[884,73],"range":[295,24],"nice":false,"zero":false},"axis":{"orient":"left","offset":-53,"ticks":false,"labels":false,"domain":false,"title":"Genes","titleFontSize":23,"titlePadding":3,"titleY":150}},"y2":{"field":"d"},"color":{"field":"v","type":"quantitative","legend":null,"scale":{"domain":[0.03,0.12,0.2,0.28,0.36,0.44,0.52,0.6,0.7,0.85,0.98,1.08],"range":["#fffdc8","#fcefb0","#fadf96","#f8cf70","#f6b83c","#f3a200","#f08410","#ee6200","#e44000","#c02500","#9c0a0c","#7a0c38"]}}}},
{"data":{"values":[{"t":"ciliated columnar cell of","x":1240,"y":82},{"t":"tracheobronchial tree","x":1240,"y":132},{"t":"cardiac muscle cell","x":1240,"y":218},{"t":"hepatocyte (Hep)","x":1240,"y":567}]},"mark":{"type":"text","align":"left","baseline":"middle","fontSize":13,"color":"#111"},"encoding":{"text":{"field":"t"},"x":{"field":"x","type":"quantitative","scale":{"domain":[121,1215],"range":[53,531],"nice":false,"zero":false},"axis":null},"y":{"field":"y","type":"quantitative","scale":{"domain":[884,73],"range":[295,24],"nice":false,"zero":false},"axis":null}}},
{"data":{"values":[{"t":"Group","x":1249,"y":902}]},"mark":{"type":"text","align":"center","baseline":"middle","fontSize":11,"color":"#111"},"encoding":{"text":{"field":"t"},"x":{"field":"x","type":"quantitative","scale":{"domain":[121,1215],"range":[53,531],"nice":false,"zero":false},"axis":null},"y":{"field":"y","type":"quantitative","scale":{"domain":[884,73],"range":[295,24],"nice":false,"zero":false},"axis":null}}},
{"data":{"values":[{"t":"a","x":2,"y":66}]},"mark":{"type":"text","align":"left","baseline":"alphabetic","fontSize":27,"fontWeight":"bold","color":"#000"},"encoding":{"text":{"field":"t"},"x":{"field":"x","type":"quantitative","scale":{"domain":[121,1215],"range":[53,531],"nice":false,"zero":false},"axis":null},"y":{"field":"y","type":"quantitative","scale":{"domain":[884,73],"range":[295,24],"nice":false,"zero":false},"axis":null}}},
{"data":{"values":[{"c":73,"d":143,"g":"A"},{"c":143,"d":178,"g":"B"},{"c":178,"d":197,"g":"C"},{"c":197,"d":235,"g":"D"},{"c":235,"d":330,"g":"E"},{"c":330,"d":413,"g":"F"},{"c":413,"d":515,"g":"G"},{"c":515,"d":530,"g":"H"},{"c":530,"d":620,"g":"I"},{"c":620,"d":688,"g":"J"},{"c":688,"d":755,"g":"K"},{"c":755,"d":884,"g":"L"}]},"mark":{"type":"rect"},"encoding":{"x":{"datum":0,"scale":{"domain":[0,1],"range":[531.5,537.5]},"axis":null},"x2":{"datum":1},"y":{"field":"c","type":"quantitative","scale":{"domain":[884,73],"range":[295,24],"nice":false,"zero":false},"axis":null},"y2":{"field":"d"},"color":{"field":"g","type":"nominal","legend":null,"scale":{"domain":["A","B","C","D","E","F","G","H","I","J","K","L"],"range":["#f7941d","#a50f15","#7f4f24","#e64a0f","#29abe2","#f58220","#00ffff","#0000ff","#fbb03b","#000000","#fcdb90","#a89080"]}}}},
{"data":{"values":[{"a":1.12,"b":1.028,"v":1.08},{"a":1.028,"b":0.938,"v":0.98},{"a":0.938,"b":0.848,"v":0.89},{"a":0.848,"b":0.758,"v":0.8},{"a":0.758,"b":0.668,"v":0.71},{"a":0.668,"b":0.578,"v":0.62},{"a":0.578,"b":0.488,"v":0.53},{"a":0.488,"b":0.398,"v":0.44},{"a":0.398,"b":0.307,"v":0.35},{"a":0.307,"b":0.217,"v":0.26},{"a":0.217,"b":0.111,"v":0.15},{"a":0.111,"b":0,"v":0.03}]},"mark":{"type":"rect"},"encoding":{"x":{"field":"a","type":"quantitative","scale":{"domain":[1.12,0.2,0],"range":[385,509,531],"nice":false,"zero":false},"axis":{"orient":"top","offset":-16,"values":[1,0.8,0.6,0.4,0.2,0],"labelExpr":"datum.value+''","labelFontSize":11,"labelPadding":1,"labelFlush":false,"tickSize":4,"tickColor":"#222","domain":false,"title":null}},"x2":{"field":"b"},"y":{"datum":0,"scale":{"domain":[0,1],"range":[23,16]},"axis":null},"y2":{"datum":1},"color":{"field":"v","type":"quantitative","legend":null,"scale":{"domain":[0.03,0.15,0.26,0.35,0.44,0.53,0.62,0.71,0.8,0.89,0.98,1.08],"range":["#fffdc8","#fcefb0","#fadf96","#f8cf70","#f6b83c","#f3a200","#f08410","#ee6200","#e44000","#c02500","#9c0a0c","#7a0c38"]}}}},
{"data":{"values":[{"a":1.12,"b":0}]},"mark":{"type":"rect","fill":"transparent","stroke":"#333","strokeWidth":1},"encoding":{"x":{"field":"a","type":"quantitative","scale":{"domain":[1.12,0.2,0],"range":[385,509,531],"nice":false,"zero":false},"axis":null},"x2":{"field":"b"},"y":{"datum":0,"scale":{"domain":[0,1],"range":[23,16]},"axis":null},"y2":{"datum":1}}},
{"data":{"name":"heatB"},"mark":{"type":"rect"},"encoding":{"x":{"field":"a","type":"quantitative","scale":{"domain":[119,1218],"range":[52,532],"nice":false,"zero":false},"axis":{"orient":"bottom","offset":-724,"ticks":false,"labels":false,"domain":false,"title":"Tissue samples","titleFontSize":23,"titlePadding":11,"titleX":295}},"x2":{"field":"b"},"y":{"field":"c","type":"quantitative","scale":{"domain":[605,115],"range":[532,368],"nice":false,"zero":false},"axis":null},"y2":{"field":"d"},"color":{"field":"v","type":"quantitative","legend":null,"scale":{"domain":[-5.3,-3.4,-1.6,0.3,2.1,4,5.8,7.7,9.5,11.4,13.2,15.1],"range":["#fffdc8","#fcefb0","#fadf96","#f8cf70","#f6b83c","#f3a200","#f08410","#ee6200","#e44000","#c02500","#9c0a0c","#7a0c38"]}}}},
{"data":{"values":[{"a":114,"b":1218,"c":283,"d":605}]},"mark":{"type":"rect","fill":"transparent","stroke":"#000","strokeWidth":2,"strokeDash":[6,4]},"encoding":{"x":{"field":"a","type":"quantitative","scale":{"domain":[119,1218],"range":[52,532],"nice":false,"zero":false},"axis":null},"x2":{"field":"b"},"y":{"field":"c","type":"quantitative","scale":{"domain":[605,115],"range":[532,368],"nice":false,"zero":false},"axis":null},"y2":{"field":"d"}}},
{"data":{"values":[{"t":"Liver","x":746,"y":622},{"t":"Group","x":1253,"y":622}]},"mark":{"type":"text","align":"center","baseline":"middle","fontSize":11,"color":"#111"},"encoding":{"text":{"field":"t"},"x":{"field":"x","type":"quantitative","scale":{"domain":[119,1218],"range":[52,532],"nice":false,"zero":false},"axis":null},"y":{"field":"y","type":"quantitative","scale":{"domain":[605,115],"range":[532,368],"nice":false,"zero":false},"axis":null}}},
{"data":{"values":[{"t":"Hep signature","x":1253,"y":437}]},"mark":{"type":"text","align":"center","baseline":"middle","angle":270,"fontSize":18,"color":"#111"},"encoding":{"text":{"field":"t"},"x":{"field":"x","type":"quantitative","scale":{"domain":[119,1218],"range":[52,532],"nice":false,"zero":false},"axis":null},"y":{"field":"y","type":"quantitative","scale":{"domain":[605,115],"range":[532,368],"nice":false,"zero":false},"axis":null}}},
{"data":{"values":[{"t":"b","x":0,"y":84}]},"mark":{"type":"text","align":"left","baseline":"alphabetic","fontSize":27,"fontWeight":"bold","color":"#000"},"encoding":{"text":{"field":"t"},"x":{"field":"x","type":"quantitative","scale":{"domain":[119,1218],"range":[52,532],"nice":false,"zero":false},"axis":null},"y":{"field":"y","type":"quantitative","scale":{"domain":[605,115],"range":[532,368],"nice":false,"zero":false},"axis":null}}},
{"data":{"values":[{"c":115,"d":283,"g":"Other"},{"c":283,"d":605,"g":"Hep"}]},"mark":{"type":"rect"},"encoding":{"x":{"datum":0,"scale":{"domain":[0,1],"range":[532,537.5]},"axis":null},"x2":{"datum":1},"y":{"field":"c","type":"quantitative","scale":{"domain":[605,115],"range":[532,368],"nice":false,"zero":false},"axis":null},"y2":{"field":"d"},"color":{"field":"g","type":"nominal","legend":null,"scale":{"domain":["Other","Hep"],"range":["#000000","#ff0000"]}}}},
{"data":{"name":"legAB"},"mark":{"type":"rect"},"encoding":{"x":{"field":"a","type":"quantitative","scale":{"domain":[16,-6.3],"range":[385,531],"nice":false,"zero":false},"axis":{"orient":"top","offset":-360,"values":[15,10,5,0,-5],"labelExpr":"datum.value+''","labelFontSize":11,"labelPadding":1,"tickSize":4,"domain":false,"title":null}},"x2":{"field":"b"},"y":{"datum":0,"scale":{"domain":[0,1],"range":[367,360]},"axis":null},"y2":{"datum":1},"color":{"field":"v","type":"quantitative","legend":null,"scale":{"domain":[-5.3,-3.4,-1.6,0.3,2.1,4,5.8,7.7,9.5,11.4,13.2,15.1],"range":["#fffdc8","#fcefb0","#fadf96","#f8cf70","#f6b83c","#f3a200","#f08410","#ee6200","#e44000","#c02500","#9c0a0c","#7a0c38"]}}}},
{"data":{"values":[{"a":16,"b":-6.3}]},"mark":{"type":"rect","fill":"transparent","stroke":"#333","strokeWidth":1},"encoding":{"x":{"field":"a","type":"quantitative","scale":{"domain":[16,-6.3],"range":[385,531],"nice":false,"zero":false},"axis":null},"x2":{"field":"b"},"y":{"datum":0,"scale":{"domain":[0,1],"range":[367,360]},"axis":null},"y2":{"datum":1}}},
{"data":{"values":[{"a":0,"b":17418,"c":-5,"d":20}]},"mark":{"type":"rect","fill":"transparent","stroke":"#333","strokeWidth":1.5},"encoding":{"x":{"field":"a","type":"quantitative","scale":{"domain":[0,17418],"range":[55,534],"nice":false,"zero":false},"axis":{"orient":"bottom","offset":-525,"values":[0,2000,4000,6000,8000,10000,12000,14000,16000],"format":"d","labelFontSize":17,"labelPadding":2,"labelFlush":false,"tickSize":5,"tickWidth":1.5,"domain":false,"title":"Tissue samples","titleFontSize":23,"titlePadding":4}},"x2":{"field":"b"},"y":{"field":"c","type":"quantitative","scale":{"domain":[-5,20],"range":[731,604],"nice":false,"zero":false},"axis":{"orient":"left","offset":-55,"values":[-5,0,5,10,15,20],"labelExpr":"datum.value+''","labelFontSize":17,"labelPadding":1,"labelFlush":false,"tickSize":5,"tickWidth":1.5,"domain":false,"title":"Hep index","titleFontSize":23,"titlePadding":2}},"y2":{"field":"d"}}},
{"data":{"values":[{"x":0,"y":-0.2,"s":1},{"x":1200,"y":-0.15,"s":1},{"x":3000,"y":-0.2,"s":1},{"x":5500,"y":-0.15,"s":1},{"x":8000,"y":-0.2,"s":1},{"x":9780,"y":-0.2,"s":1},{"x":10040,"y":-0.25,"s":2},{"x":12000,"y":-0.25,"s":2},{"x":14000,"y":-0.2,"s":2},{"x":16000,"y":-0.2,"s":2},{"x":17418,"y":-0.2,"s":2}]},"mark":{"type":"line","color":"#1f1ff5","strokeWidth":2.2},"encoding":{"detail":{"field":"s"},"x":{"field":"x","type":"quantitative","scale":{"domain":[0,17418],"range":[55,534],"nice":false,"zero":false},"axis":null},"y":{"field":"y","type":"quantitative","scale":{"domain":[-5,20],"range":[731,604],"nice":false,"zero":false},"axis":null}}},
{"data":{"name":"ptsC"},"mark":{"type":"square","filled":true,"size":3.5,"color":"#2030f0","opacity":1},"encoding":{"x":{"field":"x","type":"quantitative","scale":{"domain":[0,17418],"range":[55,534],"nice":false,"zero":false},"axis":null},"y":{"field":"y","type":"quantitative","scale":{"domain":[-5,20],"range":[731,604],"nice":false,"zero":false},"axis":null}}},
{"data":{"values":[{"t":"c","x":-2000,"y":24.1}]},"mark":{"type":"text","align":"left","baseline":"alphabetic","fontSize":27,"fontWeight":"bold","color":"#000"},"encoding":{"text":{"field":"t"},"x":{"field":"x","type":"quantitative","scale":{"domain":[0,17418],"range":[55,534],"nice":false,"zero":false},"axis":null},"y":{"field":"y","type":"quantitative","scale":{"domain":[-5,20],"range":[731,604],"nice":false,"zero":false},"axis":null}}},
{"data":{"name":"heatD"},"mark":{"type":"rect"},"encoding":{"x":{"field":"a","type":"quantitative","scale":{"domain":[127,1226],"range":[55.5,535.6],"nice":false,"zero":false},"axis":{"orient":"bottom","offset":-259,"ticks":false,"labels":false,"domain":false,"title":"Tumor samples","titleFontSize":23,"titlePadding":14,"titleX":296}},"x2":{"field":"b"},"y":{"field":"c","type":"quantitative","scale":{"domain":[592,103],"range":[997,834],"nice":false,"zero":false},"axis":{"orient":"left","offset":-55,"ticks":false,"labels":false,"domain":false,"title":"Genes in the Hep signature","titleFontSize":13.6,"titlePadding":2,"titleY":915}},"y2":{"field":"d"},"color":{"field":"v","type":"quantitative","legend":null,"scale":{"domain":[-5.3,-3.4,-1.6,0.3,2.1,4,5.8,7.7,9.5,11.4,13.2,15.1],"range":["#fffdc8","#fcefb0","#fadf96","#f8cf70","#f6b83c","#f3a200","#f08410","#ee6200","#e44000","#c02500","#9c0a0c","#7a0c38"]}}}},
{"data":{"values":[{"t":"LIHC","x":382,"y":615},{"t":"Liver control","x":1168,"y":615}]},"mark":{"type":"text","align":"center","baseline":"middle","fontSize":11,"color":"#111"},"encoding":{"text":{"field":"t"},"x":{"field":"x","type":"quantitative","scale":{"domain":[127,1226],"range":[55.5,535.6],"nice":false,"zero":false},"axis":null},"y":{"field":"y","type":"quantitative","scale":{"domain":[592,103],"range":[997,834],"nice":false,"zero":false},"axis":null}}},
{"data":{"values":[{"t":"d","x":0,"y":78}]},"mark":{"type":"text","align":"left","baseline":"alphabetic","fontSize":27,"fontWeight":"bold","color":"#000"},"encoding":{"text":{"field":"t"},"x":{"field":"x","type":"quantitative","scale":{"domain":[127,1226],"range":[55.5,535.6],"nice":false,"zero":false},"axis":null},"y":{"field":"y","type":"quantitative","scale":{"domain":[592,103],"range":[997,834],"nice":false,"zero":false},"axis":null}}},
{"data":{"name":"legAB"},"mark":{"type":"rect"},"encoding":{"x":{"field":"a","type":"quantitative","scale":{"domain":[16,-6.3],"range":[389,536],"nice":false,"zero":false},"axis":{"orient":"top","offset":-826,"values":[15,10,5,0,-5],"labelExpr":"datum.value+''","labelFontSize":11,"labelPadding":1,"tickSize":4,"domain":false,"title":null}},"x2":{"field":"b"},"y":{"datum":0,"scale":{"domain":[0,1],"range":[833.5,826]},"axis":null},"y2":{"datum":1},"color":{"field":"v","type":"quantitative","legend":null,"scale":{"domain":[-5.3,-3.4,-1.6,0.3,2.1,4,5.8,7.7,9.5,11.4,13.2,15.1],"range":["#fffdc8","#fcefb0","#fadf96","#f8cf70","#f6b83c","#f3a200","#f08410","#ee6200","#e44000","#c02500","#9c0a0c","#7a0c38"]}}}},
{"data":{"values":[{"a":16,"b":-6.3}]},"mark":{"type":"rect","fill":"transparent","stroke":"#333","strokeWidth":1},"encoding":{"x":{"field":"a","type":"quantitative","scale":{"domain":[16,-6.3],"range":[389,536],"nice":false,"zero":false},"axis":null},"x2":{"field":"b"},"y":{"datum":0,"scale":{"domain":[0,1],"range":[833.5,826]},"axis":null},"y2":{"datum":1}}},
{"data":{"values":[{"a":0,"b":9636,"c":-2,"d":10}]},"mark":{"type":"rect","fill":"transparent","stroke":"#333","strokeWidth":1.5},"encoding":{"x":{"field":"a","type":"quantitative","scale":{"domain":[0,9636],"range":[55.5,537.3],"nice":false,"zero":false},"axis":{"orient":"bottom","offset":-55,"values":[0,1000,2000,3000,4000,5000,6000,7000,8000,9000],"format":"d","labelFontSize":17,"labelPadding":2,"labelFlush":false,"tickSize":5,"tickWidth":1.5,"domain":false,"title":"Tumor samples","titleFontSize":23,"titlePadding":9}},"x2":{"field":"b"},"y":{"field":"c","type":"quantitative","scale":{"domain":[-2,10],"range":[1201,1071.7],"nice":false,"zero":false},"axis":{"orient":"left","offset":-55.5,"values":[-2,0,2,4,6,8,10],"labelExpr":"datum.value+''","labelFontSize":17,"labelPadding":1,"labelFlush":false,"tickSize":5,"tickWidth":1.5,"domain":false,"title":"Hep index","titleFontSize":23,"titlePadding":2}},"y2":{"field":"d"}}},
{"data":{"values":[{"x":0,"y":-0.15,"s":1},{"x":1000,"y":-0.12,"s":1},{"x":2100,"y":-0.15,"s":1},{"x":2450,"y":-0.15,"s":2},{"x":4000,"y":-0.15,"s":2},{"x":6000,"y":-0.15,"s":2},{"x":8000,"y":-0.15,"s":2},{"x":9170,"y":-0.15,"s":2},{"x":9210,"y":-0.15,"s":3},{"x":9636,"y":-0.15,"s":3}]},"mark":{"type":"line","color":"#1f1ff5","strokeWidth":2},"encoding":{"detail":{"field":"s"},"x":{"field":"x","type":"quantitative","scale":{"domain":[0,9636],"range":[55.5,537.3],"nice":false,"zero":false},"axis":null},"y":{"field":"y","type":"quantitative","scale":{"domain":[-2,10],"range":[1201,1071.7],"nice":false,"zero":false},"axis":null}}},
{"data":{"name":"ptsE"},"mark":{"type":"square","filled":true,"size":3.5,"color":"#2030f0","opacity":1},"encoding":{"x":{"field":"x","type":"quantitative","scale":{"domain":[0,9636],"range":[55.5,537.3],"nice":false,"zero":false},"axis":null},"y":{"field":"y","type":"quantitative","scale":{"domain":[-2,10],"range":[1201,1071.7],"nice":false,"zero":false},"axis":null}}},
{"data":{"values":[{"t":"e","x":-1110,"y":11.5}]},"mark":{"type":"text","align":"left","baseline":"alphabetic","fontSize":27,"fontWeight":"bold","color":"#000"},"encoding":{"text":{"field":"t"},"x":{"field":"x","type":"quantitative","scale":{"domain":[0,9636],"range":[55.5,537.3],"nice":false,"zero":false},"axis":null},"y":{"field":"y","type":"quantitative","scale":{"domain":[-2,10],"range":[1201,1071.7],"nice":false,"zero":false},"axis":null}}}
],
"resolve":{"scale":{"x":"independent","y":"independent","color":"independent"},"axis":{"x":"independent","y":"independent"}}}
